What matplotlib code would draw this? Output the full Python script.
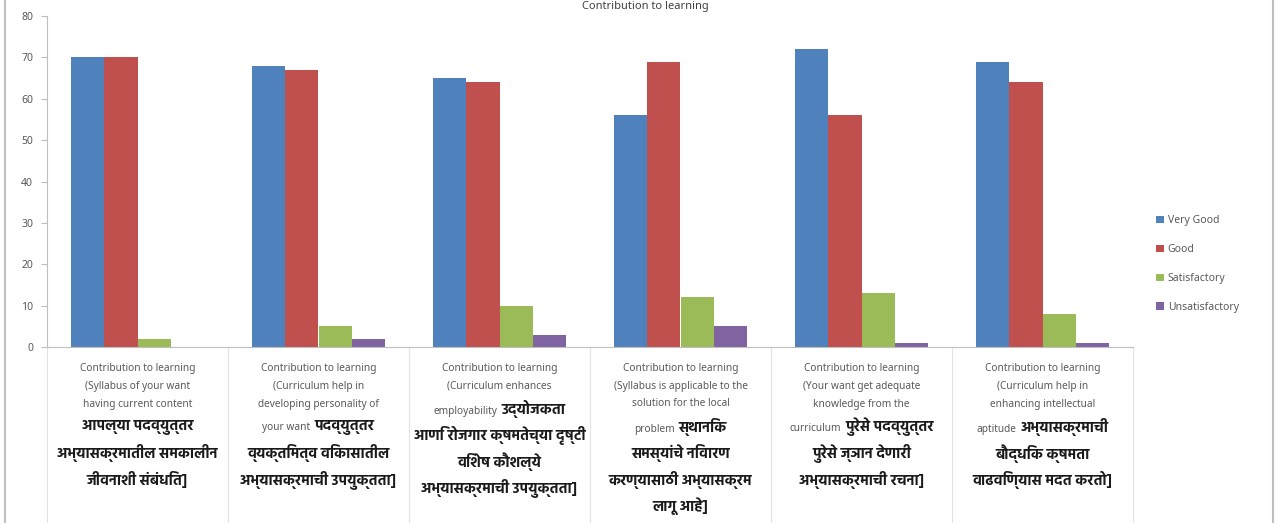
import matplotlib
matplotlib.use("Agg")
import matplotlib.pyplot as plt
import numpy as np
from matplotlib.offsetbox import TextArea, HPacker, AnnotationBbox
from matplotlib.patches import Rectangle

plt.rcParams['font.family'] = ['Noto Sans', 'Noto Sans Devanagari', 'DejaVu Sans']

# ---------------- data ----------------
title = "Contribution to learning"
categories = [
    "Contribution to learning\n(Syllabus of your want\nhaving current content\nआपल्या पदव्युत्तर\nअभ्यासक्रमातील समकालीन\nजीवनाशी संबंधित]",
    "Contribution to learning\n(Curriculum help in\ndeveloping personality of\nyour want पदव्युत्तर\nव्यक्तिमत्व विकासातील\nअभ्यासक्रमाची उपयुक्तता]",
    "Contribution to learning\n(Curriculum enhances\nemployability उद्योजकता\nआणि रोजगार क्षमतेच्या दृष्टी\nविशेष कौशल्ये\nअभ्यासक्रमाची उपयुक्तता]",
    "Contribution to learning\n(Syllabus is applicable to the\nsolution for the local\nproblem स्थानिक\nसमस्यांचे निवारण\nकरण्यासाठी अभ्यासक्रम\nलागू आहे]",
    "Contribution to learning\n(Your want get adequate\nknowledge from the\ncurriculum पुरेसे पदव्युत्तर\nपुरेसे ज्ञान देणारी\nअभ्यासक्रमाची रचना]",
    "Contribution to learning\n(Curriculum help in\nenhancing intellectual\naptitude अभ्यासक्रमाची\nबौद्धिक क्षमता\nवाढविण्यास मदत करतो]",
]
series_names = ["Very Good", "Good", "Satisfactory", "Unsatisfactory"]
very_good = [70, 68, 65, 56, 72, 69]
good = [70, 67, 64, 69, 56, 64]
satisfactory = [2, 5, 10, 12, 13, 8]
unsatisfactory = [0, 2, 3, 5, 1, 1]
y_ticks = [0, 10, 20, 30, 40, 50, 60, 70, 80]

colors = ["#4F81BD", "#C0504D", "#9BBB59", "#8064A2"]

# ---------------- figure ----------------
W, H = 1275, 523
fig = plt.figure(figsize=(W / 100, H / 100), dpi=100)
ax = fig.add_axes([47 / W, 176 / H, 1086 / W, 331 / H])

x = np.arange(len(categories))
bw = 0.183
all_series = [very_good, good, satisfactory, unsatisfactory]
for k, (vals, name, c) in enumerate(zip(all_series, series_names, colors)):
    ax.bar(x + (k - 1.5) * bw, vals, width=bw, color=c, label=name, linewidth=0)

ax.set_xlim(-0.5, len(categories) - 0.5)
ax.set_ylim(0, 80)
ax.set_yticks(y_ticks)
ax.set_yticklabels([str(v) for v in y_ticks], fontsize=7.5, color="#595959")
ax.tick_params(axis='y', length=4, color="#BFBFBF", pad=6)
ax.set_xticks([])
for s in ["top", "right"]:
    ax.spines[s].set_visible(False)
ax.spines["left"].set_color("#BFBFBF")
ax.spines["bottom"].set_color("#BFBFBF")

# category separators below axis
for b in np.arange(-0.5, len(categories), 1.0):
    ax.plot([b, b], [0, -0.53], transform=ax.get_xaxis_transform(),
            color="#E3E3E3", lw=0.8, clip_on=False)

# category labels (English + Marathi mixed)
def is_dev(ch):
    return '\u0900' <= ch <= '\u097F'

def split_runs(line):
    idx = None
    for i, ch in enumerate(line):
        if is_dev(ch):
            idx = i
            break
    if idx is None:
        return [(line, 'en')]
    j = idx
    while j > 0 and line[j - 1] != ' ':
        j -= 1
    runs = []
    if line[:j].strip():
        runs.append((line[:j].strip(), 'en'))
    runs.append((line[j:].strip(), 'mr'))
    return runs

en_props = dict(fontsize=7.3, color="#595959", family=['Noto Sans', 'DejaVu Sans'])
mr_props = dict(fontsize=10.5, color="#1A1A1A",
                family=['Hind', 'Mukta', 'Noto Sans Devanagari', 'Noto Sans'],
                fontweight='bold')

for i, label in enumerate(categories):
    y = 21  # pixels below axis, center of first line
    prev_en = True
    for n, line in enumerate(label.split("\n")):
        runs = split_runs(line)
        has_mr = any(r[1] == 'mr' for r in runs)
        if n > 0:
            if not has_mr and prev_en:
                y += 18
            elif prev_en:
                y += 23
            else:
                y += 26.5
        children = [TextArea(t, textprops=(en_props if s == 'en' else mr_props)) for t, s in runs]
        box = HPacker(children=children, align="baseline", pad=0, sep=3)
        ab = AnnotationBbox(box, (i, 0), xycoords=ax.get_xaxis_transform(),
                            xybox=(0, -y * 0.72), boxcoords="offset points",
                            box_alignment=(0.5, 0.5), frameon=False, pad=0,
                            annotation_clip=False)
        ax.add_artist(ab)
        prev_en = not has_mr

# legend
leg = ax.legend(loc="center left", bbox_to_anchor=(1147 / W, (523 - 264) / H),
                bbox_transform=fig.transFigure, frameon=False, fontsize=7.5,
                handlelength=0.7, handleheight=0.7, handletextpad=0.4,
                labelspacing=1.7, labelcolor="#595959")

# title (at the very top edge)
fig.text(645 / W, 1 - 1 / H, title, ha="center", va="top", fontsize=8,
         color="#404040")

# chart frame
fig.patches.append(Rectangle((5 / W, -0.05), (1273 - 5) / W, 1.1, transform=fig.transFigure,
                             fill=False, edgecolor="#BFBFBF", linewidth=1.5))

fig.savefig("out.png", dpi=100)
